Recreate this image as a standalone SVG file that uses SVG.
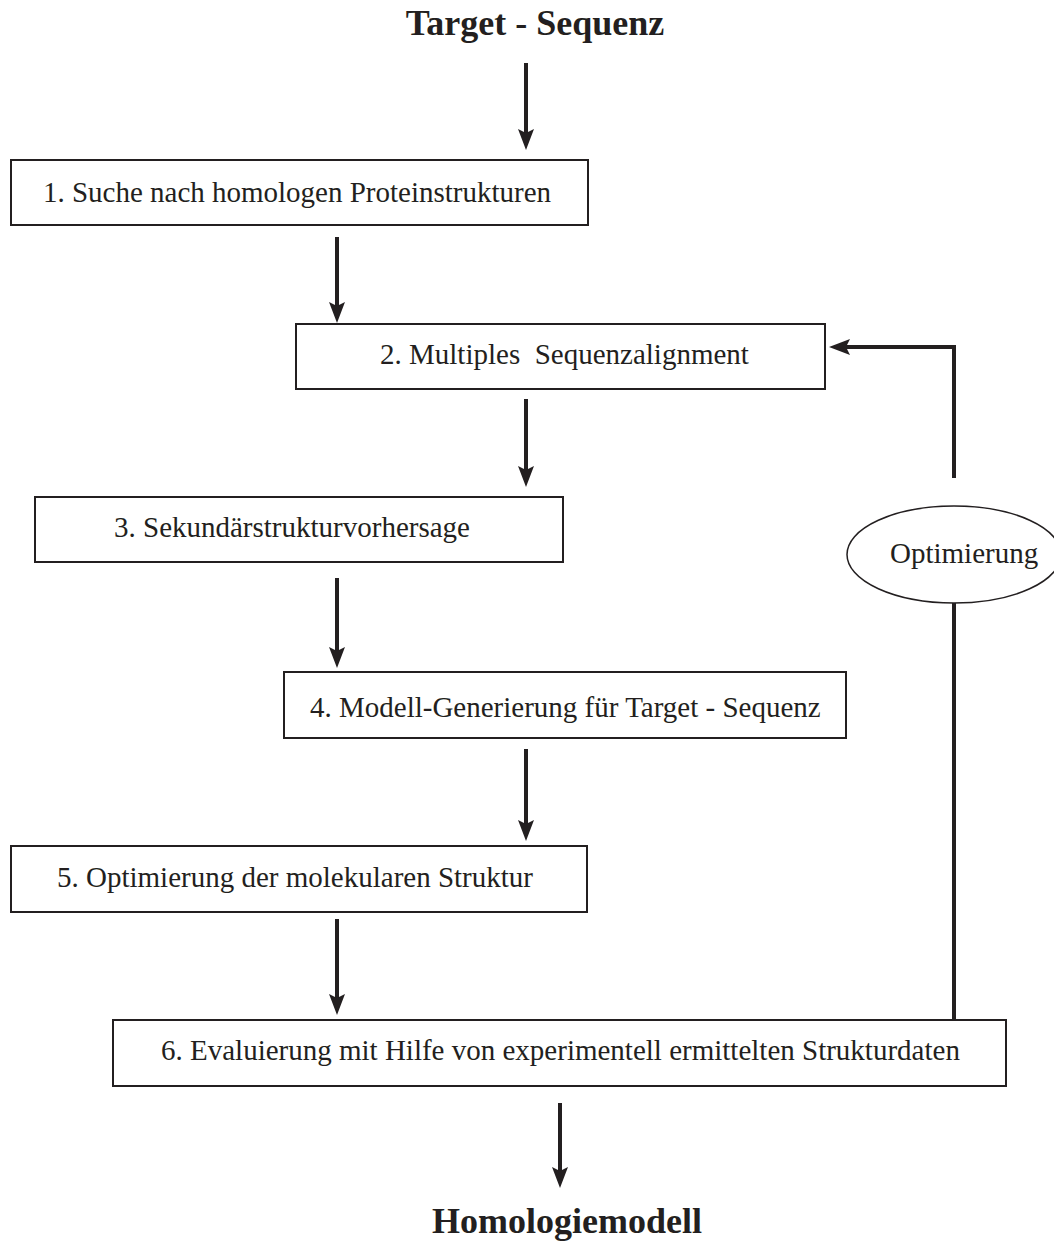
<svg xmlns="http://www.w3.org/2000/svg" width="1054" height="1243" viewBox="0 0 1054 1243">
  <style>
    .box { fill: #ffffff; stroke: #231f20; stroke-width: 2; }
    .lbl { font-family: "Liberation Serif", "Times New Roman", serif; font-size: 29px; fill: #231f20; white-space: pre; }
    .ttl { font-family: "Liberation Serif", "Times New Roman", serif; font-size: 36px; font-weight: bold; fill: #231f20; }
    .arr { fill: none; stroke: #231f20; stroke-width: 4; marker-end: url(#ah); }
    .fb { fill: none; stroke: #231f20; stroke-width: 4; stroke-linejoin: miter; }
  </style>
  <defs>
    <marker id="ah" markerUnits="userSpaceOnUse" markerWidth="23" markerHeight="18" viewBox="-1 -9 23 18" refX="4" refY="0" orient="auto">
      <path d="M0,-8 L21,0 L0,8 L4,0 Z" fill="#231f20"/>
    </marker>
  </defs>
  <rect width="1054" height="1243" fill="#ffffff"/>

  <g id="title">
    <text class="ttl" x="535" y="35" text-anchor="middle">Target - Sequenz</text>
  </g>

  <g id="step1">
    <rect class="box" x="11" y="160" width="577" height="65"/>
    <text class="lbl" x="297" y="202" text-anchor="middle">1. Suche nach homologen Proteinstrukturen</text>
  </g>
  <g id="step2">
    <rect class="box" x="296" y="324" width="529" height="65"/>
    <text class="lbl" x="380" y="364" xml:space="preserve">2. Multiples  Sequenzalignment</text>
  </g>
  <g id="step3">
    <rect class="box" x="35" y="497" width="528" height="65"/>
    <text class="lbl" x="114" y="537">3. Sekundärstrukturvorhersage</text>
  </g>
  <g id="step4">
    <rect class="box" x="284" y="672" width="562" height="66"/>
    <text class="lbl" x="310" y="717">4. Modell-Generierung für Target - Sequenz</text>
  </g>
  <g id="step5">
    <rect class="box" x="11" y="846" width="576" height="66"/>
    <text class="lbl" x="57" y="887">5. Optimierung der molekularen Struktur</text>
  </g>
  <g id="step6">
    <rect class="box" x="113" y="1020" width="893" height="66"/>
    <text class="lbl" x="161" y="1060">6. Evaluierung mit Hilfe von experimentell ermittelten Strukturdaten</text>
  </g>
  <g id="optimierung">
    <ellipse cx="954" cy="554.5" rx="107" ry="48.5" fill="#ffffff" stroke="#231f20" stroke-width="1.5"/>
    <text class="lbl" x="890" y="563">Optimierung</text>
  </g>
  <g id="result">
    <text class="ttl" x="567" y="1233" text-anchor="middle">Homologiemodell</text>
  </g>

  <g id="connectors">
    <path class="arr" d="M526,63 V133"/>
    <path class="arr" d="M337,237 V306"/>
    <path class="arr" d="M526,399 V470"/>
    <path class="arr" d="M337,578 V651"/>
    <path class="arr" d="M526,749 V824"/>
    <path class="arr" d="M337,919 V998"/>
    <path class="arr" d="M560,1103 V1171"/>
    <path class="fb" d="M954,1020 V603"/>
    <path class="arr" d="M954,478 V347 H846" stroke-linejoin="miter"/>
  </g>
</svg>
